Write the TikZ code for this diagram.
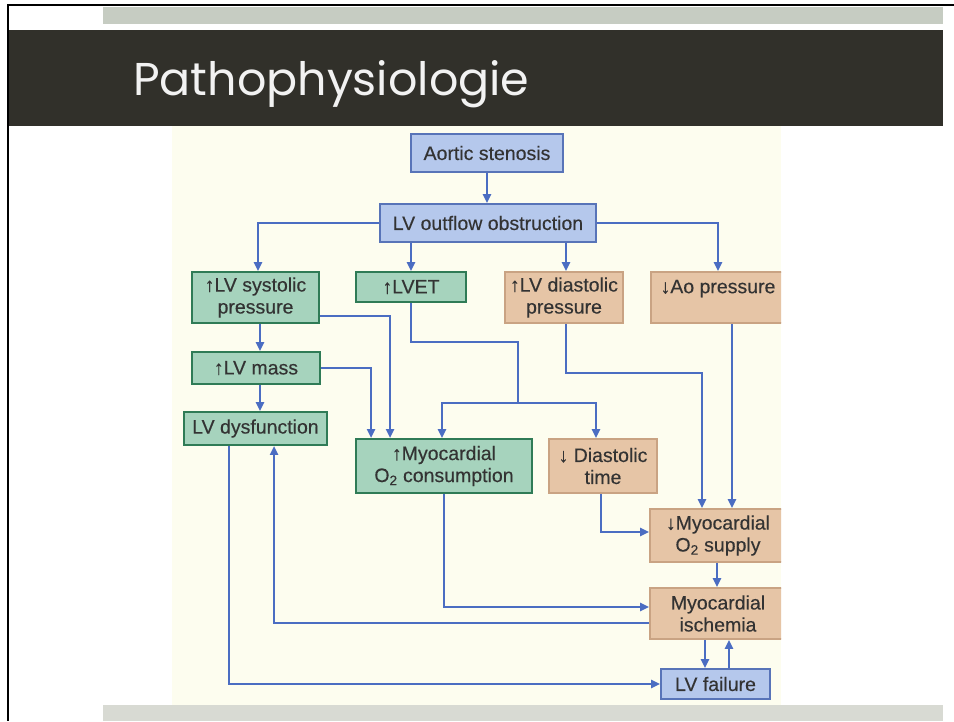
\documentclass[tikz,border=0pt]{standalone}
\usepackage{fontspec}
\setmainfont{Liberation Sans}
\newfontfamily\boxfont[FakeBold=0.3]{Liberation Sans}
\newfontfamily\titlefont{Poppins}
\usetikzlibrary{arrows.meta,calc}
\definecolor{hdr}{HTML}{31302A}
\definecolor{gtop}{HTML}{C6CCC2}
\definecolor{gbot}{HTML}{D8DAD3}
\definecolor{cream}{HTML}{FDFDEF}
\definecolor{bfill}{HTML}{B5C8EC}
\definecolor{bline}{HTML}{5874B8}
\definecolor{gfill}{HTML}{A6D3BD}
\definecolor{gline}{HTML}{2F7B56}
\definecolor{tfill}{HTML}{E6C5A6}
\definecolor{tline}{HTML}{C9A383}
\definecolor{aline}{HTML}{4B6DC2}
\definecolor{txt}{HTML}{333333}
\tikzset{
  box/.style={draw, line width=1.9pt, inner sep=0pt, align=center,
    font=\boxfont\fontsize{19.5}{22}\selectfont, text=txt},
  bluebox/.style={box, fill=bfill, draw=bline},
  greenbox/.style={box, fill=gfill, draw=gline},
  tanbox/.style={box, fill=tfill, draw=tline},
  ln/.style={draw=aline, line width=2.4pt},
  arr/.style={ln, -{Triangle[length=9pt,width=8pt]}}
}
\begin{document}
\begin{tikzpicture}[x=1pt,y=-1pt]
\useasboundingbox (0,0) rectangle (954,721);
\fill[white] (0,0) rectangle (954,721);
% page frame and header
\fill[gtop] (103,7) rectangle (943,24);
\fill[hdr] (9,30) rectangle (943,126);
\draw[black, line width=2.2pt] (7,5) -- (954,5);
\draw[black, line width=2.5pt] (8,4) -- (8,721);
\node[anchor=base west, inner sep=0pt, text=white!95!black] (title) at (133,95)
  {\titlefont\fontsize{46}{50}\selectfont Pathophysiologie};
% diagram area
\begin{scope}
\clip (172,126) rectangle (781,706);
\fill[cream] (172,126) rectangle (781,706);
\node[tanbox, minimum width=134pt, minimum height=51pt] (aop) at (718,297.5) {↓Ao pressure\\\mbox{}};
\node[tanbox, minimum width=136pt, minimum height=53pt] (supply) at (718,535.5) {↓Myocardial\\O\textsubscript{2} supply};
\node[tanbox, minimum width=136pt, minimum height=51pt] (isch) at (718,613.5) {Myocardial\\ischemia};
\end{scope}
\fill[gbot] (103,705) rectangle (943,721);
% nodes
\node[bluebox, minimum width=152pt, minimum height=38pt] (aortic) at (487,153) {Aortic stenosis};
\node[bluebox, minimum width=216pt, minimum height=38pt] (outflow) at (488,223) {LV outflow obstruction};
\node[greenbox, minimum width=127pt, minimum height=51pt] (lvsp) at (255.5,297.5) {↑LV systolic\\pressure};
\node[greenbox, minimum width=110pt, minimum height=30pt] (lvet) at (411,287) {↑LVET};
\node[tanbox, minimum width=118pt, minimum height=51pt] (lvdp) at (564,297.5) {↑LV diastolic\\pressure};
\node[greenbox, minimum width=128pt, minimum height=32pt] (lvmass) at (256,368) {↑LV mass};
\node[greenbox, minimum width=143pt, minimum height=33pt] (lvdys) at (255.5,428.5) {LV dysfunction};
\node[greenbox, minimum width=176pt, minimum height=54pt] (mvo2) at (444,466) {↑Myocardial\\O\textsubscript{2} consumption};
\node[tanbox, minimum width=108pt, minimum height=54pt] (diast) at (603,466) {↓ Diastolic\\time};
\node[bluebox, minimum width=109pt, minimum height=30pt] (lvfail) at (715.5,684) {LV failure};
% connectors
\draw[arr] (aortic.south) -- (aortic.south |- outflow.north);
\draw[arr] (outflow.west) -| ($(lvsp.north)+(2.5,0)$);
\draw[arr] (lvet.north |- outflow.south) -- (lvet.north);
\draw[arr] ($(lvdp.north |- outflow.south)+(2,0)$) -- ($(lvdp.north)+(2,0)$);
\draw[arr] (outflow.east) -| (aop.north);
\draw[arr] ($(lvsp.south)+(4.5,0)$) -- ($(lvmass.north)+(4,0)$);
\draw[arr] ($(lvsp.south east)+(0,-8)$) -| ($(mvo2.north west)+(35,0)$);
\draw[arr] (lvmass.east) -| ($(mvo2.north west)+(16,0)$);
\draw[arr] ($(lvmass.south)+(4,0)$) -- ($(lvdys.north)+(4.5,0)$);
\coordinate (j1) at (518,403);
\draw[ln] (lvet.south) -- ++(0,39) -| (j1);
\draw[arr] (j1) -| ($(mvo2.north)+(-2,0)$);
\draw[arr] (j1) -| ($(diast.north)+(-7,0)$);
\draw[arr] ($(lvdp.south)+(2,0)$) -- ++(0,49) -| ($(supply.north)+(-16,0)$);
\draw[arr] ($(aop.south)+(14,0)$) -- ($(supply.north)+(14,0)$);
\draw[arr] ($(diast.south)+(-2,0)$) |- ($(supply.west)+(0,-3.5)$);
\draw[arr] ($(supply.south)+(-1,0)$) -- ($(isch.north)+(-1,0)$);
\draw[arr] (mvo2.south) |- ($(isch.west)+(0,-6.5)$);
\draw[arr] ($(isch.west)+(0,9.5)$) -| ($(lvdys.south west)+(91,0)$);
\draw[arr] ($(lvdys.south west)+(46,0)$) |- (lvfail.west);
\draw[arr] ($(isch.south)+(-13,0)$) -- ($(lvfail.north)+(-10.5,0)$);
\draw[arr] ($(lvfail.north)+(13.5,0)$) -- ($(isch.south)+(11,0)$);
\end{tikzpicture}
\end{document}
